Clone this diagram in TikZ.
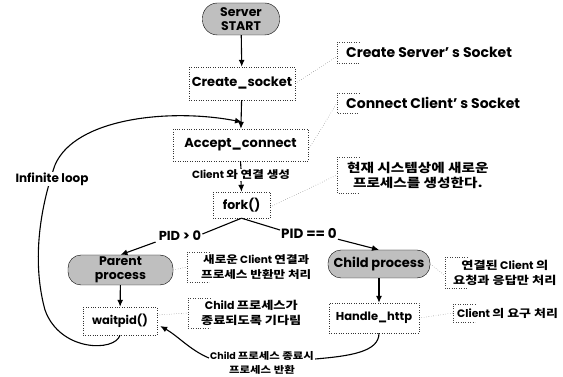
\documentclass[tikz,border=0pt]{standalone}
\usepackage{fontspec}
\setmainfont{Poppins}
\newfontfamily\krf{Noto Sans CJK KR}[FakeStretch=1.2]
\usetikzlibrary{arrows.meta,calc}
\newcommand\K[1]{{\krf #1}}
\tikzset{
  box/.style={draw=black!80, dotted, thin, inner sep=0pt, font=\bfseries\fontsize{11.5}{13}\selectfont},
  pill/.style={draw, fill=gray!50, rounded corners=13pt, inner sep=0pt, align=center, font=\bfseries\fontsize{12.5}{14.5}\selectfont},
  flow/.style={-{Latex[length=7pt,width=6pt]}, line width=1.1pt},
  plain/.style={line width=1.1pt},
  note/.style={dotted, thin, black!75},
  callout/.style={anchor=west, inner xsep=9pt, inner ysep=0pt, align=center, font=\bfseries\fontsize{11}{15}\selectfont},
  lbl/.style={fill=white, inner sep=1pt, align=center, font=\bfseries\fontsize{11}{12}\selectfont}
}
\begin{document}
\begin{tikzpicture}[x=1pt,y=-1pt]
\useasboundingbox (0,0) rectangle (563,377);
% main flow nodes
\node[pill, minimum width=77pt, minimum height=32pt, rounded corners=15pt] (start) at (241,19) {Server\\START};
\node[box, minimum width=106pt, minimum height=33pt, font=\bfseries\fontsize{13}{14}\selectfont] (cs) at (242,83.5) {Create\_socket};
\node[box, minimum width=135pt, minimum height=32pt, font=\bfseries\fontsize{13}{14}\selectfont] (ac) at (240.5,145) {Accept\_connect};
\node[lbl, font=\bfseries\fontsize{10.5}{12}\selectfont] (cl) at (241,175) {Client \K{와 연결 생성}};
\node[box, minimum width=57pt, minimum height=26pt, font=\bfseries\fontsize{12.5}{14}\selectfont] (fk) at (241.5,205) {fork()};
\node[lbl, font=\bfseries\fontsize{13}{14}\selectfont] (pl) at (180,236) {PID > 0};
\node[lbl, font=\bfseries\fontsize{13.5}{14}\selectfont] (pr) at (309,233) {PID == 0};
\node[pill, minimum width=105pt, minimum height=30pt] (pp) at (120.5,270) {Parent\\process};
\node[box, minimum width=74pt, minimum height=28pt] (wp) at (120,321) {waitpid()};
\node[pill, minimum width=102pt, minimum height=28pt, font=\bfseries\fontsize{13}{14}\selectfont] (cp) at (379,264) {Child process};
\node[box, minimum width=90pt, minimum height=30pt] (hh) at (374,318) {Handle\_http};
\node[lbl, font=\bfseries\fontsize{9.5}{14}\selectfont] (rl) at (262,363) {Child \K{프로세스 종료시}\\\K{프로세스 반환}};

% callouts
\node[callout, minimum height=21pt, font=\bfseries\fontsize{14}{15}\selectfont] (c1) at (337,52.5) {Create Server' s Socket};
\node[callout, minimum height=20pt, font=\bfseries\fontsize{14}{15}\selectfont] (c2) at (337,103) {Connect Client' s Socket};
\node[callout, minimum height=36pt, inner xsep=10pt, font=\bfseries\fontsize{12.2}{15}\selectfont] (c3) at (337,175) {\K{현재 시스템상에 새로운}\\\K{프로세스를 생성한다.}};
\node[callout, minimum height=30pt, inner xsep=14pt, font=\bfseries\fontsize{10.5}{15}\selectfont] (c4) at (187,267) {\K{새로운} Client \K{연결과}\\\K{프로세스 반환만 처리}};
\node[callout, minimum height=30pt, inner xsep=13pt, font=\bfseries\fontsize{11}{15}\selectfont] (c5) at (188,313) {Child \K{프로세스가}\\\K{종료되도록 기다림}};
\node[callout, minimum height=31pt, inner xsep=8pt, font=\bfseries\fontsize{11}{15}\selectfont] (c6) at (445,272.5) {\K{연결된} Client \K{의}\\\K{요청과 응답만 처리}};
\node[callout, minimum height=18pt, inner xsep=4pt, font=\bfseries\fontsize{10.8}{15}\selectfont] (c7) at (453,313) {Client \K{의 요구 처리}};

\foreach \c in {c1,c2,c3,c4,c5,c6,c7}{
  \draw[note] ([xshift=22pt]\c.north west) -- (\c.north west) -- (\c.south west) -- ([xshift=22pt]\c.south west);
}
\draw[note] (cs.east) -- ([yshift=-4pt]c1.west);
\draw[note] ([yshift=-5pt]ac.east) -- (c2.west);
\draw[note] ([yshift=-2pt]fk.east) -- (c3.west);
\draw[note] (pp.east) -- (c4.west);
\draw[note] ([yshift=6pt]wp.east) -- (c5.west);
\draw[note] (cp.east) -- ([yshift=-3pt]c6.west);
\draw[note] (hh.east) -- (c7.west);

% flow
\draw[flow] (start) -- (cs);
\draw[flow] (cs) -- (ac);
\draw[plain] (ac.south) -- (cl.north);
\draw[flow] (cl.south) -- (fk.north);
\draw[plain] (fk.south) -- ([yshift=2pt]pl.east);
\draw[plain] (fk.south) -- ([yshift=3pt]pr.west);
\draw[flow] ([xshift=-2pt]pl.south west) -- (pp.north);
\draw[flow] (pr.south east) -- (cp.north);
\draw[flow] (pp) -- (wp);
\draw[flow] (cp) -- ([xshift=5pt]hh.north);
\draw[plain] ([xshift=5pt]hh.south) .. controls (379,352) and (350,356) .. ([yshift=4pt]rl.east);
\draw[flow] ([yshift=5pt]rl.west) .. controls (190,350) and (178,336) .. ([xshift=3pt,yshift=-5pt]wp.east);

% infinite loop
\coordinate (lp) at (242,122);
\draw[flow] (wp.south) .. controls (115,352) and (60,352) .. (45,310)
  .. controls (34,270) and (36,220) .. (55,165)
  .. controls (75,118) and (170,108) .. (lp);
\node[lbl, font=\bfseries\fontsize{12}{13}\selectfont] (il) at (52,179) {Infinite loop};
\end{tikzpicture}
\end{document}
